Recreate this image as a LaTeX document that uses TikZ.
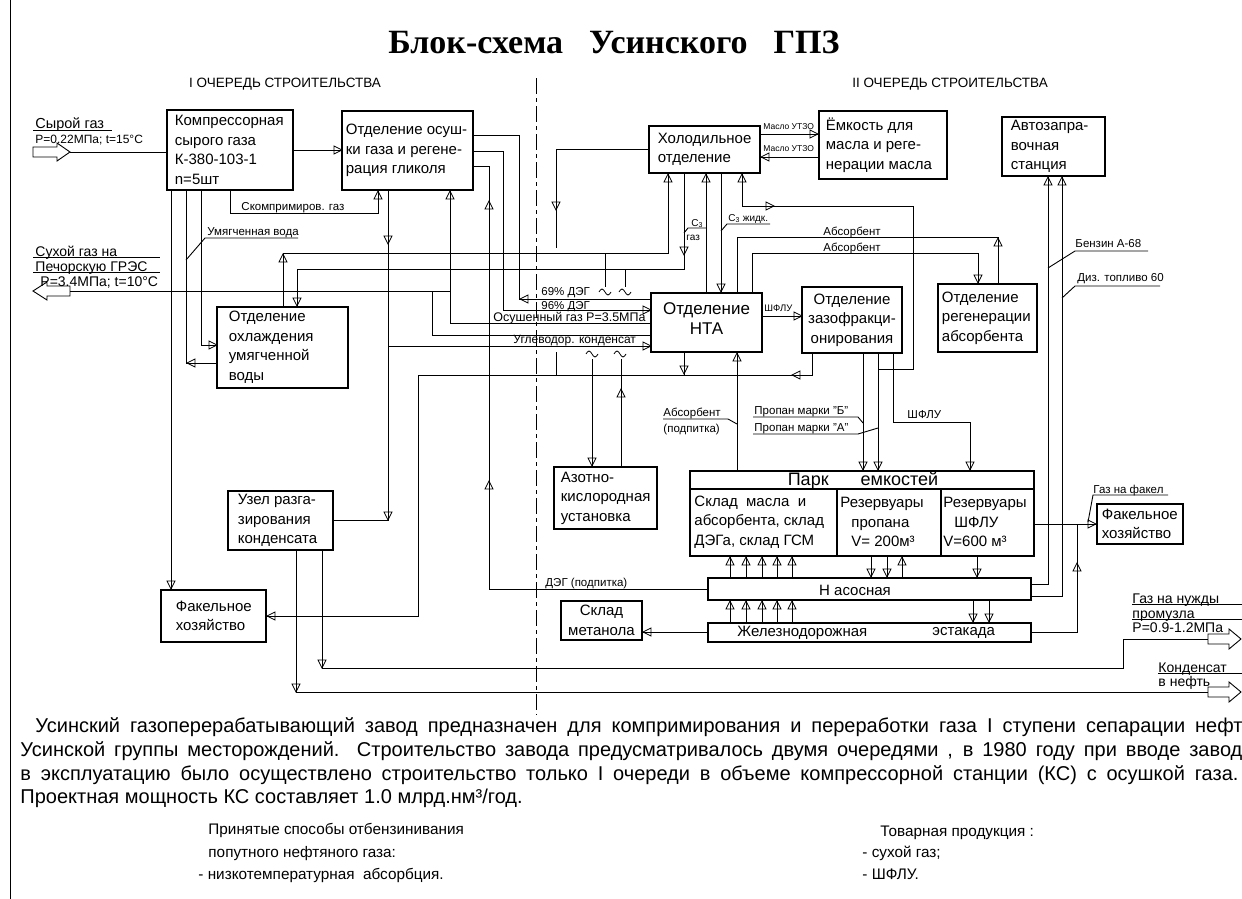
\documentclass[tikz,border=0pt]{standalone}
\usepackage{fontspec}
\setmainfont{Liberation Sans}
\newfontfamily\titlefont{Liberation Serif}
\usetikzlibrary{fit}
\tikzset{
  ah/.pic={\draw[line width=0.8pt,line join=miter] (0,0) -- (-8,4) -- (-8,-4) -- cycle;},
  tilde/.pic={\draw[line width=0.8pt] (-6,0) sin (-3,-3) cos (0,0) sin (3,3) cos (6,0);},
}
\newcommand\AR[2]{\pic at (#1,#2) {ah};}
\newcommand\AL[2]{\pic[rotate=180] at (#1,#2) {ah};}
\newcommand\AU[2]{\pic[rotate=90] at (#1,#2) {ah};}
\newcommand\AD[2]{\pic[rotate=-90] at (#1,#2) {ah};}
\newcommand\TL[2]{\pic at (#1,#2) {tilde};}
\begin{document}
\begin{tikzpicture}[x=1pt,y=-1pt,line width=0.9pt,
  rect/.style={draw,line width=1.1pt,inner sep=0pt},
  btxt/.style={inner sep=0pt,align=left,font=\fontsize{15}{19.5}\selectfont},
  ctxt/.style={inner sep=0pt,align=center,font=\fontsize{15}{19.5}\selectfont},
  lbl/.style={inner sep=0pt,anchor=base west,font=\fontsize{11.5}{13}\selectfont},
  sml/.style={inner sep=0pt,anchor=base west,font=\fontsize{8.5}{10}\selectfont},
  big/.style={inner sep=0pt,anchor=base west,font=\fontsize{14}{16}\selectfont},
  para/.style={inner sep=0pt,anchor=base west,font=\fontsize{20}{23}\selectfont},
  lst/.style={inner sep=0pt,anchor=base west,font=\fontsize{15.3}{18}\selectfont},
  hdr/.style={inner sep=0pt,font=\fontsize{13.5}{16}\selectfont},
  dashdot/.style={dash pattern=on 16pt off 4pt on 4pt off 4pt}]
\useasboundingbox (0,0) rectangle (1242,899);
\fill[white] (0,0) rectangle (1242,899);

% ---------- titles
\node[inner sep=0pt,font=\titlefont\bfseries\fontsize{34}{38}\selectfont] (title) at (614,42) {Блок-схема\hspace{26pt}Усинского\hspace{26pt}ГПЗ};
\node[hdr] (h1) at (285,84) {I ОЧЕРЕДЬ СТРОИТЕЛЬСТВА};
\node[hdr] (h2) at (950,84) {II ОЧЕРЕДЬ СТРОИТЕЛЬСТВА};

% ---------- boxes
\node[rect,fit={(167,110)(293,190)}] (comp) {};
\node[btxt,anchor=west] (compT) at ([xshift=8pt]comp.west) {Компрессорная\\сырого газа\\К-380-103-1\\n=5шт};
\node[rect,fit={(342,111)(473,190)}] (osh) {};
\node[btxt,anchor=west] (oshT) at ([xshift=4pt]osh.west) {Отделение осуш-\\ки газа и регене-\\рация гликоля};
\node[rect,fit={(217,307)(348,388)}] (cool) {};
\node[btxt,anchor=west] (coolT) at ([xshift=12pt]cool.west) {Отделение\\охлаждения\\умягченной\\воды};
\node[rect,fit={(228,491)(333,550)}] (uzel) {};
\node[btxt,anchor=west] (uzelT) at ([xshift=10pt]uzel.west) {Узел разга-\\зирования\\конденсата};
\node[rect,fit={(161,590)(266,642)}] (fakL) {};
\node[btxt,anchor=west] (fakLT) at ([xshift=15pt]fakL.west) {Факельное\\хозяйство};
\node[rect,fit={(649,126)(760,173)}] (hol) {};
\node[btxt,anchor=west] (holT) at ([xshift=9pt]hol.west) {Холодильное\\отделение};
\node[rect,fit={(819,111)(947,179)}] (emk) {};
\node[btxt,anchor=west] (emkT) at ([xshift=7pt]emk.west) {Ёмкость для\\масла и реге-\\нерации масла};
\node[rect,fit={(1002,117)(1105,176)}] (azs) {};
\node[btxt,anchor=west] (azsT) at ([xshift=9pt]azs.west) {Автозапра-\\вочная\\станция};
\node[rect,fit={(651,293)(762,352)}] (nta) {};
\node[ctxt,font=\fontsize{17}{20}\selectfont] (ntaT) at ([yshift=4pt]nta.center) {Отделение\\НТА};
\node[rect,fit={(802,287)(902,353)}] (gf) {};
\node[ctxt] (gfT) at (gf.center) {Отделение\\зазофракци-\\онирования};
\node[rect,fit={(938,284)(1037,352)}] (reg) {};
\node[btxt,anchor=west] (regT) at ([xshift=4pt]reg.west) {Отделение\\регенерации\\абсорбента};
\node[rect,fit={(554,467)(657,529)}] (azot) {};
\node[btxt,anchor=west] (azotT) at ([xshift=7pt]azot.west) {Азотно-\\кислородная\\установка};
\node[rect,fit={(690,471)(1034,556)}] (park) {};
\draw[line width=1.1pt] (park.west |- 0,489) -- (park.east |- 0,489);
\draw[line width=1.1pt] (837,0 |- park.south) -- (837,489);
\draw[line width=1.1pt] (941,0 |- park.south) -- (941,489);
\node[inner sep=0pt,font=\fontsize{18}{20}\selectfont] (parkT) at (863,481) {Парк\hspace{32pt}емкостей};
\node[btxt,anchor=west] (cell1) at (694,522) {Склад\ \ масла\ \ и\\абсорбента, склад\\ДЭГа, склад ГСМ};
\node[btxt,anchor=west] (cell2) at (840,522) {Резервуары\\\hspace{11pt}пропана\\\hspace{11pt}V= 200м³};
\node[btxt,anchor=west] (cell3) at (943,522) {Резервуары\\\hspace{11pt}ШФЛУ\\V=600 м³};
\node[rect,fit={(708,578)(1031,600)}] (nas) {};
\node[btxt] (nasT) at (855,590) {Н асосная};
\node[rect,fit={(708,623)(1031,642)}] (zd) {};
\node[btxt,anchor=west] (zdT1) at (737,633) {Железнодорожная};
\node[btxt,anchor=west] (zdT2) at (932,633) {эстакада};
\node[rect,fit={(561,601)(642,640)}] (met) {};
\node[ctxt] (metT) at (met.center) {Склад\\метанола};
\node[rect,fit={(1097,504)(1183,544)}] (fakR) {};
\node[btxt,anchor=west] (fakRT) at ([xshift=5pt]fakR.west) {Факельное\\хозяйство};

% ---------- border and dash-dot divider
\draw[line width=1pt] (10,0) -- (10,899);
\draw[dashdot] (536,78) -- (536,715);

% ---------- raw gas input
\draw (33,147) -- (57,147) -- (57,143) -- (70,152) -- (57,161) -- (57,157) -- (33,157) -- cycle;
\coordinate (rawin) at (70,152);
\draw (rawin) -- (rawin -| comp.west);
\node[big,font=\fontsize{14.5}{16}\selectfont] (rawT) at (35,128) {Сырой газ};
\draw (33,130) -- (112,130);
\node[lbl,font=\fontsize{12}{14}\selectfont] (rawP) at (35,143) {P=0.22МПа; t=15°C};

% ---------- dry gas output
\draw (70,286) -- (47,286) -- (47,282) -- (33,291) -- (47,300) -- (47,296) -- (70,296) -- cycle;
\coordinate (dryout) at (70,291);
\node[big] (dryT1) at (35,256) {Сухой газ на};
\draw (33,257) -- (160,257);
\node[big] (dryT2) at (35,271) {Печорскую ГРЭС};
\draw (33,272) -- (160,272);
\node[big] (dryT3) at (40,286) {P=3.4МПа; t=10°C};
\draw (dryout) -- (450,291);

% ---------- compressor connections
\draw (comp.east |- 0,150) -- (osh.west |- 0,150); \AR{342}{150}
\draw (230,0 |- comp.south) -- (230,213) -- (378,213) -- (378,0 |- osh.south); \AU{378}{191}
\node[lbl] (lSk) at (241,210) {Скомпримиров. газ};
\draw (171,0 |- comp.south) -- (171,0 |- fakL.north); \AD{171}{589}
\draw (186,0 |- comp.south) -- (186,363) -- (186,363 -| cool.west); \AL{187}{363}
\draw (201,0 |- comp.south) -- (201,345) -- (201,345 -| cool.west); \AR{217}{345}
\draw (186,260) -- (205,238) -- (298,238);
\node[lbl] (lUm) at (207,235) {Умягченная вода};

% ---------- cooling water <-> refrigeration
\draw (283,0 |- cool.north) -- (283,253) -- (668,253) -- (668,0 |- hol.south); \AU{283}{254} \AU{668}{174}
\draw (684,0 |- hol.south) -- (684,269) -- (297,269) -- (297,0 |- cool.north); \AD{684}{255} \AD{297}{306}
\draw (684,233) -- (688,228) -- (706,228);
\node[sml,font=\fontsize{10}{11}\selectfont] (lC3a) at (691,226) {C\textsubscript{3}};
\node[sml,font=\fontsize{10}{11}\selectfont] (lC3b) at (686,240) {газ};

% ---------- drying unit outputs
\draw (450,0 |- osh.south) -- (450,323) -- (450,323 -| nta.west); \AU{450}{191}
\draw (432,291) -- (432,335) -- (432,335 -| nta.west);
\draw (388,0 |- osh.south) -- (388,520) -- (388,520 -| uzel.east); \AD{388}{244} \AD{388}{520}
\draw (388,346) -- (388,346 -| nta.west); \AR{651}{346}
\draw (osh.east |- 0,135) -- (519,135) -- (519,299) -- (519,299 -| nta.west); \AL{520}{299}
\draw (osh.east |- 0,151) -- (503,151) -- (503,310) -- (503,310 -| nta.west); \AR{651}{310}
\draw (osh.east |- 0,166) -- (489,166) -- (489,589) -- (489,589 -| nas.west); \AU{489}{201} \AU{489}{481}
\node[lbl] (l69) at (541,295) {69\% ДЭГ};
\node[lbl] (l96) at (541,309) {96\% ДЭГ};
\node[lbl,font=\fontsize{12.5}{14}\selectfont] (lOs) at (493,321) {Осушенный газ P=3.5МПа};
\node[lbl,font=\fontsize{12}{14}\selectfont] (lUg) at (513,343) {Углеводор. конденсат};
\node[lbl] (lDp) at (545,586) {ДЭГ (подпитка)};

% ---------- refrigeration
\draw (hol.west |- 0,149) -- (556,149) -- (556,248); \AD{556}{210}
\draw (556,352) -- (556,375);
\draw (605,253) -- (605,287); \TL{605}{292}
\draw (625,269) -- (625,287); \TL{625}{292}
\TL{592}{354} \TL{620}{354}
\draw (592,359) -- (592,0 |- azot.north); \AD{592}{466}
\draw (621,0 |- azot.north) -- (621,359); \AU{621}{389}
\draw (706,0 |- nta.north) -- (706,0 |- hol.south); \AU{706}{174}
\draw (721,0 |- hol.south) -- (721,0 |- nta.north); \AD{721}{292}
\draw (721,231) -- (727,224) -- (770,224);
\node[sml,font=\fontsize{10}{11}\selectfont] (lC3z) at (728,221) {C\textsubscript{3} жидк.};
\draw (742,0 |- hol.south) -- (742,206) -- (913,206) -- (913,369) -- (878,369); \AU{742}{174} \AR{774}{206}
\draw (hol.east |- 0,134) -- (emk.west |- 0,134); \AR{818}{134}
\draw (emk.west |- 0,157) -- (hol.east |- 0,157); \AL{761}{157}
\node[sml] (lM1) at (763,129) {Масло УТЗО};
\node[sml] (lM2) at (763,151) {Масло УТЗО};

% ---------- absorbent
\draw (737,0 |- nta.north) -- (737,237) -- (998,237) -- (998,0 |- reg.north); \AU{998}{238}
\draw (752,0 |- nta.north) -- (752,253) -- (978,253) -- (978,0 |- reg.north); \AD{978}{283}
\node[lbl] (lAb1) at (823,235) {Абсорбент};
\node[lbl] (lAb2) at (823,251) {Абсорбент};

% ---------- NTA / gas fractionation
\draw (nta.east |- 0,316) -- (gf.west |- 0,316); \AR{802}{316}
\node[sml,font=\fontsize{9.5}{11}\selectfont] (lSh1) at (764,311) {ШФЛУ};
\draw (812,0 |- gf.south) -- (812,375) -- (418,375) -- (418,616) -- (418,616 -| fakL.east); \AL{792}{375} \AL{267}{616}
\draw (684,0 |- nta.south) -- (684,375); \AD{684}{374}
\draw (737,0 |- park.north) -- (737,0 |- nta.south); \AU{737}{353}
\draw (737,424) -- (728,419) -- (663,419);
\node[lbl] (lAp1) at (663,416) {Абсорбент};
\node[lbl] (lAp2) at (663,432) {(подпитка)};
\draw (863,0 |- gf.south) -- (863,0 |- park.north); \AD{863}{470}
\draw (878,0 |- gf.south) -- (878,0 |- park.north); \AD{878}{470}
\draw (893,0 |- gf.south) -- (893,422) -- (970,422) -- (970,0 |- park.north); \AD{970}{470}
\draw (753,417) -- (858,417) -- (863,423);
\draw (753,434) -- (858,434) -- (878,428);
\node[lbl] (lPB) at (754,414) {Пропан марки "Б"};
\node[lbl] (lPA) at (754,431) {Пропан марки "А"};
\node[lbl] (lSh2) at (907,418) {ШФЛУ};

% ---------- tank farm, pump station, rail rack
\foreach \x in {730,746,762,777,792} {
  \draw (\x,0 |- nas.north) -- (\x,0 |- park.south); \AU{\x}{557}
  \draw (\x,0 |- zd.north) -- (\x,0 |- nas.south); \AU{\x}{601}
}
\foreach \x in {871,887} {\draw (\x,0 |- park.south) -- (\x,0 |- nas.north); \AD{\x}{577}}
\draw (902,0 |- nas.north) -- (902,0 |- park.south); \AU{902}{557}
\draw (977,0 |- park.south) -- (977,0 |- nas.north); \AD{977}{577}
\foreach \x in {973,989} {\draw (\x,0 |- nas.south) -- (\x,0 |- zd.north); \AD{\x}{622}}
\draw (nas.east |- 0,584) -- (1048,584) -- (1048,0 |- azs.south); \AU{1048}{177}
\draw (nas.east |- 0,596) -- (1062,596) -- (1062,0 |- azs.south); \AU{1062}{177}
\draw (1048,268) -- (1075,251) -- (1148,251);
\draw (1062,298) -- (1075,286) -- (1160,286);
\node[lbl] (lBz) at (1075,247) {Бензин А-68};
\node[lbl] (lDz) at (1077,281) {Диз. топливо 60};
\draw (zd.east |- 0,632) -- (1077,632) -- (1077,524); \AU{1077}{563}
\draw (park.east |- 0,524) -- (fakR.west |- 0,524); \AR{1096}{524}
\draw (1088,522) -- (1093,495) -- (1168,495);
\node[lbl] (lGf) at (1093,493) {Газ на факел};
\draw (zd.west |- 0,632) -- (met.east |- 0,632); \AL{643}{632}

% ---------- condensate degassing outputs
\draw (322,0 |- uzel.south) -- (322,668) -- (1123,668) -- (1123,639) -- (1208,639); \AD{322}{668}
\draw (296,0 |- uzel.south) -- (296,692) -- (1208,692); \AD{296}{692}
\draw (1208,634) -- (1229,634) -- (1229,629) -- (1241,639) -- (1229,649) -- (1229,644) -- (1208,644) -- cycle;
\draw (1208,687) -- (1229,687) -- (1229,682) -- (1241,692) -- (1229,702) -- (1229,697) -- (1208,697) -- cycle;
\node[big] (lGn1) at (1132,603) {Газ на нужды};
\draw (1132,604) -- (1242,604);
\node[big] (lGn2) at (1132,618) {промузла};
\draw (1132,619) -- (1242,619);
\node[big] (lGn3) at (1132,632) {P=0.9-1.2МПа};
\node[big] (lKn1) at (1158,672) {Конденсат};
\draw (1158,673) -- (1242,673);
\node[big] (lKn2) at (1158,686) {в нефть};

% ---------- text below
\node[para] (p1) at (35,732) {\makebox[1207pt][s]{Усинский газоперерабатывающий завод предназначен для компримирования и переработки газа I ступени сепарации нефт}};
\node[para] (p2) at (20,756) {\makebox[1222pt][s]{Усинской группы месторождений. Строительство завода предусматривалось двумя очередями , в 1980 году при вводе завод}};
\node[para] (p3) at (20,780) {\makebox[1218pt][s]{в эксплуатацию было осуществлено строительство только I очереди в объеме компрессорной станции (КС) с осушкой газа.}};
\node[para] (p4) at (20,803) {Проектная мощность КС составляет 1.0 млрд.нм³/год.};
\node[lst] (q1) at (208,834) {Принятые способы отбензинивания};
\node[lst] (q2) at (208,857) {попутного нефтяного газа:};
\node[lst] (q3) at (198,879) {- низкотемпературная\ \ абсорбция.};
\node[lst] (r1) at (880,836) {Товарная продукция :};
\node[lst] (r2) at (862,857) {- сухой газ;};
\node[lst] (r3) at (862,879) {- ШФЛУ.};
\end{tikzpicture}
\end{document}
